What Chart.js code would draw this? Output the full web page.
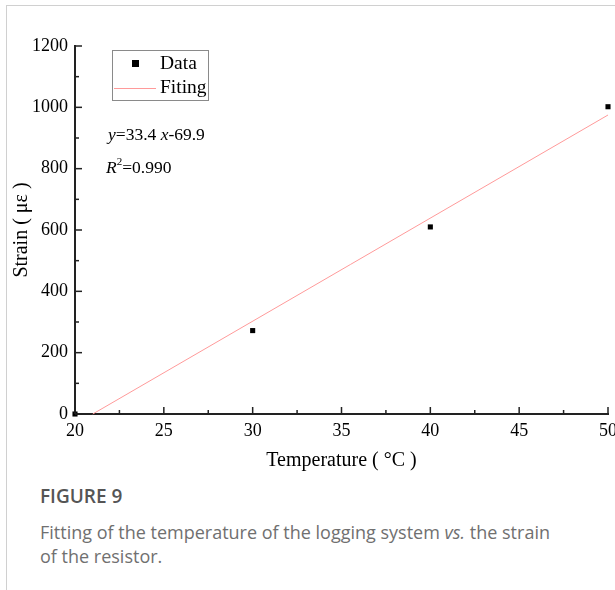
<!DOCTYPE html>
<html>
<head>
<meta charset="utf-8">
<script src="https://cdn.jsdelivr.net/npm/chart.js@4.4.0/dist/chart.umd.min.js"></script>
<style>
  html, body { margin: 0; padding: 0; background: #fff; overflow: hidden; }
  body { width: 615px; height: 590px; position: relative; }
  #frame {
    position: absolute; left: 6px; top: 5px; width: 620px; height: 600px;
    border-top: 1px solid #d0d0d0; border-left: 1px solid #d0d0d0;
  }
  #chartBox { position: absolute; left: 0; top: 0; width: 630px; height: 480px; }
  #caption {
    position: absolute; left: 40px; top: 484px; width: 570px; white-space: nowrap;
    font-family: "Open Sans", sans-serif; color: #707070; font-size: 18px; line-height: 24px;
  }
  #caption .fig { color: #555; font-weight: 600; font-size: 19px; margin-bottom: 12px; }
</style>
</head>
<body>
<div id="frame"></div>
<div id="chartBox"><canvas id="strainChart" width="630" height="480"></canvas></div>
<div id="caption">
  <div class="fig">FIGURE 9</div>
  <div>Fitting of the temperature of the logging system <i>vs.</i> the strain<br>of the resistor.</div>
</div>
<script>
let temperatures = [20, 30, 40, 50];
let strains = [0, 272, 610, 1002];

// fitted line, endpoints as drawn
let fitTemps = [21, 50];
let fitStrains = [0, 975];

let xTicks = [20, 25, 30, 35, 40, 45, 50];
let yTicks = [0, 200, 400, 600, 800, 1000, 1200];

const serif = "'Liberation Serif', 'Times New Roman', serif";

// inward ticks, legend box and the fit equation
const decorPlugin = {
    id: 'decor',
    afterDraw(chart) {
        const ctx = chart.ctx;
        const xs = chart.scales.x;
        const ys = chart.scales.y;
        const area = chart.chartArea;
        ctx.save();
        ctx.strokeStyle = '#222';
        ctx.lineWidth = 1.5;
        // x ticks (major every 5, minor every 2.5)
        for (let v = 20; v <= 50; v += 2.5) {
            let px = xs.getPixelForValue(v);
            let len = (v % 5 === 0) ? 7 : 4;
            ctx.beginPath();
            ctx.moveTo(px, area.bottom);
            ctx.lineTo(px, area.bottom - len);
            ctx.stroke();
        }
        // y ticks (major 200, minor 100)
        for (let v = 0; v <= 1200; v += 100) {
            let py = ys.getPixelForValue(v);
            let len = (v % 200 === 0) ? 7 : 4;
            ctx.beginPath();
            ctx.moveTo(area.left, py);
            ctx.lineTo(area.left + len, py);
            ctx.stroke();
        }

        // legend
        ctx.lineWidth = 1;
        ctx.strokeStyle = '#8a8a8a';
        ctx.strokeRect(112.5, 50.5, 96, 50);
        ctx.fillStyle = '#000';
        ctx.fillRect(132, 60, 7, 7);
        ctx.strokeStyle = '#ff9a9a';
        ctx.beginPath();
        ctx.moveTo(114, 88.5);
        ctx.lineTo(156, 88.5);
        ctx.stroke();
        ctx.font = '19.5px ' + serif;
        ctx.textBaseline = 'middle';
        ctx.textAlign = 'left';
        ctx.fillText('Data', 160, 64);
        ctx.fillText('Fiting', 160, 88);

        // equation
        ctx.font = 'italic 17.5px ' + serif;
        ctx.fillText('y', 108, 135);
        let w = ctx.measureText('y').width;
        ctx.font = '17.5px ' + serif;
        ctx.fillText('=33.4 ', 108 + w, 135);
        w += ctx.measureText('=33.4 ').width;
        ctx.font = 'italic 17.5px ' + serif;
        ctx.fillText('x', 108 + w, 135);
        w += ctx.measureText('x').width;
        ctx.font = '17.5px ' + serif;
        ctx.fillText('-69.9', 108 + w, 135);

        ctx.font = 'italic 17.5px ' + serif;
        ctx.fillText('R', 106, 168);
        w = ctx.measureText('R').width;
        ctx.font = '11px ' + serif;
        ctx.fillText('2', 106 + w, 162);
        w += ctx.measureText('2').width;
        ctx.font = '17.5px ' + serif;
        ctx.fillText('=0.990', 106 + w, 168);
        ctx.restore();
    }
};

function buildChart() {
    let ctx = document.getElementById('strainChart').getContext('2d');
    let pointData = temperatures.map((t, i) => ({ x: t, y: strains[i] }));
    let fitData = fitTemps.map((t, i) => ({ x: t, y: fitStrains[i] }));

    new Chart(ctx, {
        type: 'scatter',
        data: {
            datasets: [{
                label: 'Fiting',
                type: 'line',
                data: fitData,
                borderColor: '#ff9a9a',
                borderWidth: 1,
                pointRadius: 0,
                fill: false,
                clip: false
            }, {
                label: 'Data',
                data: pointData,
                pointStyle: 'rect',
                pointRadius: 3.6,
                backgroundColor: '#000',
                borderColor: '#000',
                borderWidth: 0,
                clip: false
            }]
        },
        options: {
            responsive: false,
            animation: false,
            layout: { padding: { left: 0, right: 22, top: 46, bottom: 0 } },
            plugins: { legend: { display: false }, tooltip: { enabled: false } },
            scales: {
                x: {
                    type: 'linear',
                    min: 20,
                    max: 50,
                    afterBuildTicks: (axis) => { axis.ticks = xTicks.map(v => ({ value: v })); },
                    afterFit: (axis) => { axis.height = 66; },
                    grid: { display: false, drawTicks: false },
                    border: { color: '#222', width: 2 },
                    ticks: { color: '#000', padding: 6, font: { family: serif, size: 18 }, callback: (v) => String(v) },
                    title: {
                        display: true,
                        text: 'Temperature ( °C )',
                        color: '#000',
                        font: { family: serif, size: 20 },
                        padding: { top: 0, bottom: 7 }
                    }
                },
                y: {
                    min: 0,
                    max: 1200,
                    afterBuildTicks: (axis) => { axis.ticks = yTicks.map(v => ({ value: v })); },
                    afterFit: (axis) => { axis.width = 75; },
                    grid: { display: false, drawTicks: false },
                    border: { color: '#222', width: 2 },
                    ticks: { color: '#000', padding: 7, font: { family: serif, size: 18 }, callback: (v) => String(v) },
                    title: {
                        display: true,
                        text: 'Strain ( με )',
                        color: '#000',
                        font: { family: serif, size: 20 },
                        padding: { top: 10, bottom: 0 }
                    }
                }
            }
        },
        plugins: [decorPlugin]
    });
}

buildChart();
</script>
</body>
</html>
